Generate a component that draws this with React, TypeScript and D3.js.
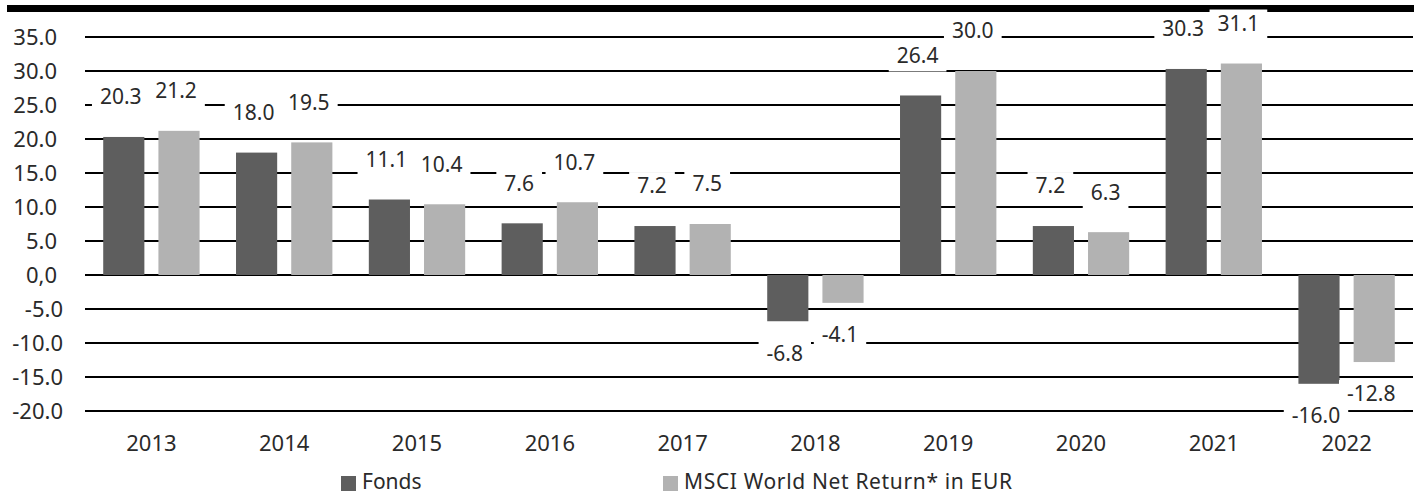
import React from 'react';
import * as d3 from 'd3';

const years = ['2013', '2014', '2015', '2016', '2017', '2018', '2019', '2020', '2021', '2022'];
const fonds = [20.3, 18.0, 11.1, 7.6, 7.2, -6.8, 26.4, 7.2, 30.3, -16.0];
const msci = [21.2, 19.5, 10.4, 10.7, 7.5, -4.1, 30.0, 6.3, 31.1, -12.8];
const yTicks = [35, 30, 25, 20, 15, 10, 5, 0, -5, -10, -15, -20];
const seriesNames = ['Fonds', 'MSCI World Net Return* in EUR'];
const seriesColors = ['#5e5e5e', '#b2b2b2'];

const W = 1419;
const H = 495;
const FONT = "'Noto Sans', 'Open Sans', sans-serif";

// rough text width for Noto Sans glyphs
const textWidth = (s: string, size: number) =>
  s.split('').reduce((w, c) => w + (c === '.' || c === ',' ? 0.27 : c === '-' ? 0.32 : 0.572), 0) * size;

const fmtTick = (v: number) => (v === 0 ? '0,0' : v.toFixed(1));

export default function App() {
  const x = d3.scaleBand<string>().domain(years).range([85, 1413]).padding(0);
  const inner = d3
    .scaleBand<string>()
    .domain(['Fonds', 'MSCI'])
    .range([0, x.bandwidth()])
    .paddingInner(0.2545)
    .paddingOuter(0.33);
  const y = d3.scaleLinear().domain([-20, 35]).range([411, 37]);

  const series = [
    { key: 'Fonds', values: fonds, color: seriesColors[0] },
    { key: 'MSCI', values: msci, color: seriesColors[1] },
  ];

  const labelSize = 21;

  return (
    <svg width={W} height={H} style={{ position: 'absolute', left: 0, top: 0 }} fontFamily={FONT}>
      <rect x={7} y={5} width={1407} height={7} fill="#000" />

      {/* grid */}
      {yTicks.map((t) => (
        <g key={t}>
          <line x1={85} x2={1413} y1={y(t)} y2={y(t)} stroke="#000" strokeWidth={2} />
          <text
            x={t < 0 ? 63 : 57}
            y={y(t)}
            dy="0.35em"
            textAnchor="end"
            fontSize={22}
            fill="#2a2a2a"
          >
            {fmtTick(t)}
          </text>
        </g>
      ))}

      {/* bars */}
      {series.map((s) =>
        s.values.map((v, i) => (
          <rect
            key={s.key + i}
            x={(x(years[i]) ?? 0) + (inner(s.key) ?? 0)}
            y={y(Math.max(v, 0))}
            width={inner.bandwidth()}
            height={Math.abs(y(v) - y(0))}
            fill={s.color}
          />
        ))
      )}

      {/* data labels */}
      {series.map((s) =>
        s.values.map((v, i) => {
          const label = v.toFixed(1);
          const cx = (x(years[i]) ?? 0) + (inner(s.key) ?? 0) + inner.bandwidth() / 2 - 3;
          const cy = v >= 0 ? y(v) - 40 : y(v) + 32;
          const tw = textWidth(label, labelSize);
          return (
            <g key={'l' + s.key + i}>
              <rect x={cx - tw / 2 - 8} y={cy - 14} width={tw + 16} height={30} fill="#fff" />
              <text x={cx} y={cy} dy="0.35em" textAnchor="middle" fontSize={labelSize} fill="#2a2a2a">
                {label}
              </text>
            </g>
          );
        })
      )}

      {/* x axis labels */}
      {years.map((yr) => (
        <text
          key={yr}
          x={(x(yr) ?? 0) + x.bandwidth() / 2}
          y={443}
          dy="0.35em"
          textAnchor="middle"
          fontSize={22}
          fill="#2a2a2a"
        >
          {yr}
        </text>
      ))}

      {/* legend */}
      {[341, 663].map((lx, i) => (
        <g key={seriesNames[i]}>
          <rect x={lx} y={476} width={15} height={15} fill={seriesColors[i]} />
          <text
            x={lx + 21}
            y={489}
            fontSize={21}
            fill="#2a2a2a"
            textLength={i === 1 ? 328 : undefined}
            lengthAdjust="spacing"
          >
            {seriesNames[i]}
          </text>
        </g>
      ))}
    </svg>
  );
}
